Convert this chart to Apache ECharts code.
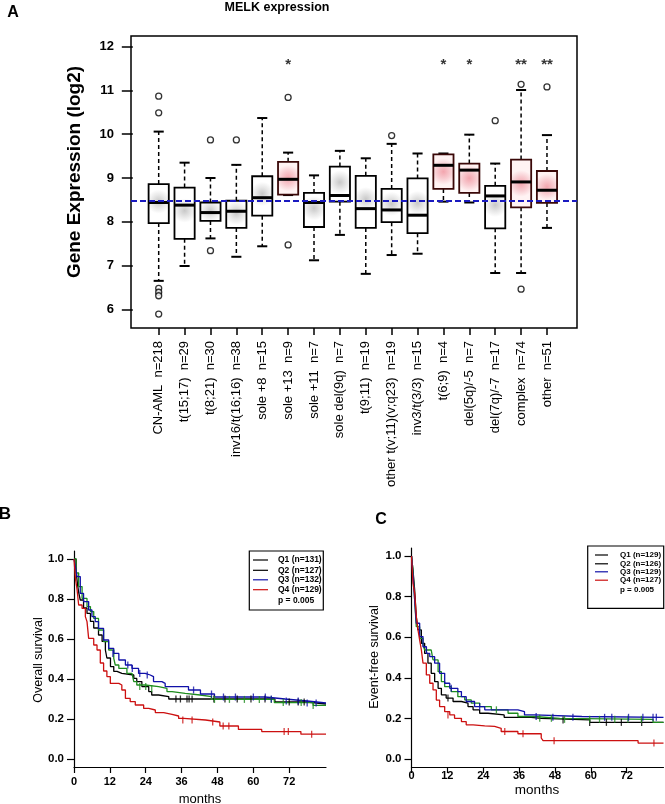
<!DOCTYPE html>
<html><head><meta charset="utf-8">
<script src="https://cdn.jsdelivr.net/npm/echarts@6/dist/echarts.min.js"></script>
<style>html,body{margin:0;padding:0;background:#fff}#c{width:665px;height:804px}</style>
</head><body><div id="c"></div>
<script>
// ---------- Panel A data ----------
const categories = ['CN-AML  n=218','t(15;17)  n=29','t(8;21)  n=30','inv16/t(16;16)  n=38','sole +8  n=15','sole +13  n=9','sole +11  n=7','sole del(9q)  n=7','t(9;11)  n=19','other t(v;11)(v;q23)  n=19','inv3/t(3/3)  n=15','t(6;9)  n=4','del(5q)/-5  n=7','del(7q)/-7  n=17','complex  n=74','other  n=51'];
const whiskerLow  = [6.65, 6.99, 7.62, 7.20, 7.44, 8.61, 7.12, 7.70, 6.81, 7.24, 7.27, 8.46, 8.44, 6.83, 6.83, 7.86];
const quart1      = [7.97, 7.61, 8.02, 7.86, 8.14, 8.62, 7.88, 8.46, 7.86, 7.99, 7.74, 8.75, 8.66, 7.85, 8.33, 8.43];
const medians     = [8.44, 8.38, 8.21, 8.24, 8.55, 8.97, 8.44, 8.60, 8.30, 8.27, 8.15, 9.29, 9.18, 8.59, 8.91, 8.72];
const quart3      = [8.86, 8.78, 8.44, 8.48, 9.04, 9.37, 8.66, 9.26, 9.05, 8.75, 8.99, 9.54, 9.33, 8.82, 9.42, 9.16];
const whiskerHigh = [10.06, 9.35, 9.00, 9.30, 10.37, 9.58, 9.06, 9.62, 9.45, 9.78, 9.56, 9.56, 9.99, 9.33, 11.01, 9.98];
const stars       = ['', '', '', '', '', '*', '', '', '', '', '', '*', '*', '', '**', '**'];
const starLevel = 11.65;
const outlierCat = [1, 1, 1, 1, 1, 1, 3, 3, 4, 6, 6, 10, 14, 15, 15, 16];
const outlierVal = [10.87, 10.49, 6.48, 6.39, 6.31, 5.89, 9.87, 7.34, 9.87, 10.84, 7.47, 9.97, 10.31, 11.14, 6.46, 11.08];
const refLine = 8.47;
const yTicksA = [6, 7, 8, 9, 10, 11, 12];

// ---------- Panel B data (overall survival) ----------
const B_Q1 = [[0,1],[0.7,0.94],[1.2,0.87],[1.6,0.83],[2.1,0.795],[3.2,0.755],[4.35,0.728],[5.5,0.688],[6.6,0.655],[8.2,0.62],[9.4,0.588],[10.5,0.545],[11,0.505],[12.2,0.462],[13.3,0.438],[14.4,0.428],[16,0.42],[20,0.403],[21,0.387],[22.7,0.362],[25,0.337],[26,0.32],[28.3,0.312],[31.7,0.30],[67.2,0.285],[78,0.275],[84.3,0.275]];
const B_Q2 = [[0,1],[0.67,0.93],[1.56,0.862],[2.7,0.803],[4.35,0.762],[5.5,0.737],[6.6,0.703],[8.2,0.645],[9.9,0.587],[11.6,0.545],[13.3,0.503],[13.8,0.47],[15,0.453],[17.7,0.428],[19.4,0.42],[20,0.387],[21,0.37],[23.8,0.362],[28.3,0.353],[31.1,0.337],[32.8,0.328],[37.2,0.32],[42.2,0.312],[46,0.298],[67,0.282],[80,0.268],[84.3,0.268]];
const B_Q3 = [[0,1],[0.5,0.96],[1,0.912],[2.1,0.828],[3.2,0.787],[4.9,0.745],[6,0.712],[7.1,0.687],[8.2,0.653],[9.9,0.595],[11.6,0.553],[13.3,0.528],[15,0.495],[17.2,0.47],[19.4,0.453],[21.6,0.428],[23.8,0.42],[25.5,0.412],[26.6,0.387],[29.4,0.378],[30.5,0.362],[38.3,0.345],[42.3,0.325],[47,0.31],[63.9,0.3],[70.6,0.29],[78,0.28],[84.3,0.28]];
const B_Q4 = [[0,1],[0.5,0.9],[1,0.85],[1.56,0.77],[2.7,0.753],[3.8,0.712],[4.35,0.687],[4.9,0.603],[6.6,0.57],[7.7,0.545],[8.8,0.48],[9.9,0.44],[11,0.412],[12.15,0.378],[15,0.37],[16,0.345],[17.2,0.303],[18.8,0.287],[20.5,0.27],[23.3,0.253],[25,0.245],[27.2,0.232],[30,0.223],[32.8,0.215],[35,0.203],[36.7,0.195],[44,0.185],[48.8,0.165],[55,0.148],[62.8,0.137],[75.9,0.124],[84.3,0.124]];
const B_C1 = [[34.1,0.30],[35.6,0.30],[37.8,0.30],[38.5,0.30],[39.5,0.30],[46.8,0.30],[50.5,0.30],[54.6,0.30],[59.2,0.30],[63.9,0.30],[72,0.285],[75,0.285],[77,0.285]];
const B_C2 = [[22,0.362],[24,0.362],[26,0.353],[47,0.298],[52,0.298],[57,0.298],[62,0.298],[66,0.298],[70,0.282],[76,0.282],[80,0.268]];
const B_C3 = [[13,0.528],[18,0.47],[19.5,0.453],[22,0.428],[24.5,0.42],[40,0.345],[46,0.325],[50,0.31],[54,0.31],[60,0.31],[64,0.31],[66,0.3],[71,0.29],[75,0.29],[78,0.28],[81,0.28]];
const B_C4 = [[36.4,0.195],[39.5,0.195],[46.4,0.185],[49.9,0.165],[51.8,0.165],[70.3,0.137],[71.7,0.137],[79.5,0.124]];
const legendB = ['Q1 (n=131)','Q2 (n=127)','Q3 (n=132)','Q4 (n=129)'];

// ---------- Panel C data (event-free survival) ----------
const C_Q1 = [[0,1],[0.5,0.93],[1.06,0.833],[1.6,0.701],[2.17,0.636],[3.3,0.57],[4.4,0.52],[5.5,0.472],[6.6,0.422],[7.75,0.381],[8.9,0.348],[10,0.316],[11.6,0.3],[13.9,0.283],[16.7,0.275],[18.9,0.258],[20.6,0.242],[22.8,0.225],[25.6,0.217],[31,0.205],[40,0.2],[43.4,0.192],[59.6,0.18],[84.3,0.18]];
const C_Q2 = [[0,1],[0.5,0.93],[1.06,0.784],[1.6,0.652],[2.73,0.594],[3.85,0.561],[4.4,0.537],[6.6,0.528],[7.2,0.488],[8.9,0.43],[10,0.381],[11.1,0.356],[13.3,0.332],[15.5,0.307],[17.8,0.291],[20,0.275],[22.8,0.258],[26.7,0.242],[32.3,0.225],[35.6,0.209],[41.2,0.2],[49.6,0.195],[80.8,0.18],[84.3,0.18]];
const C_Q3 = [[0,1],[0.5,0.907],[1.06,0.784],[1.6,0.669],[2.73,0.603],[3.85,0.553],[5,0.52],[6.1,0.504],[7.75,0.472],[9.4,0.422],[11.1,0.373],[12.8,0.348],[15.5,0.332],[16.7,0.307],[18.3,0.283],[21.1,0.258],[24.5,0.242],[35.6,0.233],[37.8,0.217],[41.2,0.209],[57,0.205],[84.3,0.205]];
const C_Q4 = [[0,1],[0.5,0.866],[1.06,0.817],[1.62,0.701],[2.17,0.636],[2.73,0.586],[3.3,0.537],[3.85,0.472],[4.96,0.414],[6.1,0.373],[7.2,0.34],[8.3,0.29],[9.4,0.258],[11.1,0.233],[12.8,0.217],[14.4,0.2],[16.7,0.184],[18.3,0.168],[20.6,0.163],[24.5,0.16],[27.8,0.151],[30,0.135],[35.6,0.124],[43.4,0.103],[44,0.09],[75.8,0.078],[84.3,0.078]];
const C_C1 = [[12.2,0.3],[50.7,0.192],[59.6,0.18],[65.2,0.18],[70.2,0.18],[77,0.18]];
const C_C2 = [[28.4,0.242],[42.9,0.2],[46.8,0.2],[51.2,0.195],[59.6,0.195],[62.9,0.195],[68,0.195],[72.4,0.195],[76.9,0.195]];
const C_C3 = [[13.3,0.348],[22.8,0.258],[41.7,0.209],[47.3,0.205],[54,0.205],[64.6,0.205],[67,0.205],[72.6,0.205],[77.4,0.205],[80.8,0.205],[81.9,0.205]];
const C_C4 = [[12.2,0.217],[31.2,0.135],[37.3,0.124],[47.7,0.09],[81.1,0.078]];
const legendC = ['Q1 (n=129)','Q2 (n=126)','Q3 (n=129)','Q4 (n=127)'];
const pText = 'p = 0.005';

const monthTicks = [0, 12, 24, 36, 48, 60, 72];
const survTicks = [0, 0.2, 0.4, 0.6, 0.8, 1.0];

// ---------- styles ----------
const FONT = "'Liberation Sans', Arial, Helvetica, sans-serif";
const kmColors = ['#000000', '#1e8c1e', '#1010a8', '#cc1010'];
const legendLineColors = ['#000000', '#000000', '#1010a8', '#cc1010'];

const chart = echarts.init(document.getElementById('c'), null, {renderer: 'canvas'});

function grayFill() {
  return {type: 'radial', x: 0.5, y: 0.45, r: 0.55, colorStops: [
    {offset: 0, color: '#c8c8c8'}, {offset: 0.55, color: '#e8e8e8'}, {offset: 1, color: '#ffffff'}]};
}
function pinkFill() {
  return {type: 'radial', x: 0.5, y: 0.5, r: 0.6, colorStops: [
    {offset: 0, color: '#f3a5ae'}, {offset: 0.55, color: '#f8cdd2'}, {offset: 1, color: '#fff3f3'}]};
}

function renderBox(params, api) {
  const x = api.value(0);
  const lo = api.coord([x, api.value(1)]);
  const b1 = api.coord([x, api.value(2)]);
  const md = api.coord([x, api.value(3)]);
  const b3 = api.coord([x, api.value(4)]);
  const hi = api.coord([x, api.value(5)]);
  const sig = api.value(6) > 0;
  const bw = api.size([0.78, 0])[0];
  const cw = bw * 0.5;
  const cx = lo[0];
  const edge = sig ? '#3a0808' : '#000';
  const dash = {stroke: '#000', lineWidth: 1.5, lineDash: [4, 3]};
  const solid = {stroke: '#000', lineWidth: 2};
  return {type: 'group', children: [
    {type: 'line', shape: {x1: cx, y1: b3[1], x2: cx, y2: hi[1]}, style: dash},
    {type: 'line', shape: {x1: cx, y1: b1[1], x2: cx, y2: lo[1]}, style: dash},
    {type: 'line', shape: {x1: cx - cw / 2, y1: hi[1], x2: cx + cw / 2, y2: hi[1]}, style: solid},
    {type: 'line', shape: {x1: cx - cw / 2, y1: lo[1], x2: cx + cw / 2, y2: lo[1]}, style: solid},
    {type: 'rect', shape: {x: cx - bw / 2, y: b3[1], width: bw, height: b1[1] - b3[1]},
      style: {fill: sig ? pinkFill() : grayFill(), stroke: edge, lineWidth: 1.8}},
    {type: 'line', shape: {x1: cx - bw / 2, y1: md[1], x2: cx + bw / 2, y2: md[1]}, style: {stroke: '#000', lineWidth: 3}}
  ]};
}

const boxData = categories.map((c, i) => [i + 1, whiskerLow[i], quart1[i], medians[i], quart3[i], whiskerHigh[i], stars[i] ? 1 : 0]);
const outlierData = outlierCat.map((c, i) => [c, outlierVal[i]]);
const starData = stars.map((s, i) => [i + 1, starLevel, s]).filter(d => d[2]);

function kmLine(name, data, color, gi) {
  return {name, type: 'line', step: 'end', data, xAxisIndex: gi, yAxisIndex: gi,
    symbol: 'none', showSymbol: false, lineStyle: {color, width: 1.3}, itemStyle: {color}, z: 3};
}
function kmCensor(name, data, color, gi) {
  return {name: name + ' censored', type: 'scatter', data, xAxisIndex: gi, yAxisIndex: gi,
    symbol: 'rect', symbolSize: [1.3, 7], itemStyle: {color}, z: 4};
}

function kmXAxis(gi, labelMargin) {
  return {type: 'value', gridIndex: gi, min: 0, max: 84.3,
    axisLine: {show: true, onZero: false, lineStyle: {color: '#000', width: 1.2}},
    axisTick: {show: true, customValues: monthTicks, length: 6, lineStyle: {color: '#000', width: 1.2}},
    axisLabel: {customValues: monthTicks, margin: labelMargin, color: '#000', fontWeight: 'bold', fontSize: 11, fontFamily: FONT},
    splitLine: {show: false}};
}
function kmYAxis(gi) {
  return {type: 'value', gridIndex: gi, min: -0.04, max: 1.04,
    axisLine: {show: true, onZero: false, lineStyle: {color: '#000', width: 1.2}},
    axisTick: {show: true, customValues: survTicks, length: 7, lineStyle: {color: '#000', width: 1.2}},
    axisLabel: {customValues: survTicks, margin: 10, color: '#000', fontWeight: 'bold', fontSize: 11.5, fontFamily: FONT,
      formatter: v => v.toFixed(1)},
    splitLine: {show: false}};
}

function legendGraphics(labels, x0, y0, w, h, lineX1, lineX2, textX, rows, pRow, fontSize) {
  const g = [{type: 'rect', shape: {x: x0, y: y0, width: w, height: h}, style: {fill: '#fff', stroke: '#000', lineWidth: 1.2}, z: 10}];
  labels.forEach((t, i) => {
    g.push({type: 'line', shape: {x1: lineX1, y1: rows[i], x2: lineX2, y2: rows[i]}, style: {stroke: legendLineColors[i], lineWidth: 1.2}, z: 11});
    g.push({type: 'text', x: textX, y: rows[i], style: {text: t, fill: '#000', font: 'bold ' + fontSize + 'px ' + FONT, textAlign: 'left', textVerticalAlign: 'middle'}, z: 11});
  });
  g.push({type: 'text', x: textX, y: pRow, style: {text: pText, fill: '#000', font: 'bold ' + fontSize + 'px ' + FONT, textAlign: 'left', textVerticalAlign: 'middle'}, z: 11});
  return g;
}

function txt(text, x, y, font, rot) {
  return {type: 'text', x, y, rotation: rot || 0,
    style: {text, fill: '#000', font: font + ' ' + FONT, textAlign: 'center', textVerticalAlign: 'middle'}, z: 20};
}

const option = {
  animation: false,
  backgroundColor: '#fff',
  grid: [
    {left: 131, top: 36, width: 446, height: 292, show: true, borderColor: '#000', borderWidth: 1.5, backgroundColor: 'transparent'},
    {left: 74, top: 551, width: 252, height: 216},
    {left: 411.5, top: 548, width: 252, height: 219}
  ],
  xAxis: [
    {type: 'value', gridIndex: 0, min: -0.07, max: 17.16,
      axisLine: {show: false},
      axisTick: {show: true, customValues: categories.map((c, i) => i + 1), length: 7, lineStyle: {color: '#000', width: 1.5}},
      axisLabel: {customValues: categories.map((c, i) => i + 1), rotate: 90, margin: 13, color: '#000', fontSize: 13, fontFamily: FONT,
        formatter: v => categories[Math.round(v) - 1] || ''},
      splitLine: {show: false}},
    kmXAxis(1, 9),
    kmXAxis(2, 3)
  ],
  yAxis: [
    {type: 'value', gridIndex: 0, min: 5.573, max: 12.244,
      axisLine: {show: false},
      axisTick: {show: true, customValues: yTicksA, length: 11, lineStyle: {color: '#000', width: 1.5}},
      axisLabel: {customValues: yTicksA, margin: 17, color: '#000', fontWeight: 'bold', fontSize: 13, fontFamily: FONT},
      splitLine: {show: false}},
    kmYAxis(1),
    kmYAxis(2)
  ],
  series: [
    {name: 'MELK', type: 'custom', xAxisIndex: 0, yAxisIndex: 0, renderItem: renderBox, data: boxData,
      encode: {x: 0, y: [1, 2, 3, 4, 5]}, z: 2,
      markLine: {silent: true, symbol: ['none', 'none'], label: {show: false},
        lineStyle: {color: '#1a1ac0', type: [6, 3], width: 2}, data: [{yAxis: refLine}]}},
    {name: 'outliers', type: 'scatter', xAxisIndex: 0, yAxisIndex: 0, data: outlierData,
      symbol: 'circle', symbolSize: 6, itemStyle: {color: '#fff', borderColor: '#000', borderWidth: 1.3}, z: 5},
    {name: 'significance', type: 'scatter', xAxisIndex: 0, yAxisIndex: 0, data: starData,
      symbolSize: 1, itemStyle: {color: 'rgba(0,0,0,0)'},
      label: {show: true, position: 'inside', offset: [0, 3], formatter: p => p.value[2], fontSize: 15, fontWeight: 'bold', color: '#000', fontFamily: FONT}, z: 5},
    kmLine('Q1', B_Q1, kmColors[0], 1), kmLine('Q2', B_Q2, kmColors[1], 1), kmLine('Q3', B_Q3, kmColors[2], 1), kmLine('Q4', B_Q4, kmColors[3], 1),
    kmCensor('Q1', B_C1, kmColors[0], 1), kmCensor('Q2', B_C2, kmColors[1], 1), kmCensor('Q3', B_C3, kmColors[2], 1), kmCensor('Q4', B_C4, kmColors[3], 1),
    kmLine('Q1 EFS', C_Q1, kmColors[0], 2), kmLine('Q2 EFS', C_Q2, kmColors[1], 2), kmLine('Q3 EFS', C_Q3, kmColors[2], 2), kmLine('Q4 EFS', C_Q4, kmColors[3], 2),
    kmCensor('Q1 EFS', C_C1, kmColors[0], 2), kmCensor('Q2 EFS', C_C2, kmColors[1], 2), kmCensor('Q3 EFS', C_C3, kmColors[2], 2), kmCensor('Q4 EFS', C_C4, kmColors[3], 2)
  ],
  graphic: [
    txt('A', 13, 13, 'bold 16px'),
    txt('MELK expression', 277, 8, 'bold 12.5px'),
    txt('Gene Expression (log2)', 75, 172, 'bold 19px', Math.PI / 2),
    txt('B', 5, 514, 'bold 17px'),
    txt('C', 381, 520, 'bold 16px'),
    txt('Overall survival', 39, 660, '12.5px', Math.PI / 2),
    txt('Event-free survival', 375, 657, '12.5px', Math.PI / 2),
    txt('months', 200, 799, '13px'),
    txt('months', 537, 790, '13.5px'),
    ...legendGraphics(legendB, 249.3, 551, 74, 59, 253, 268, 278, [560, 570.3, 579.8, 589.7], 600.7, 8.5),
    ...legendGraphics(legendC, 587.7, 546, 76, 62.3, 595, 608, 620, [555, 563.8, 571.8, 580.2], 589.3, 8)
  ]
};
chart.setOption(option);
</script></body></html>
